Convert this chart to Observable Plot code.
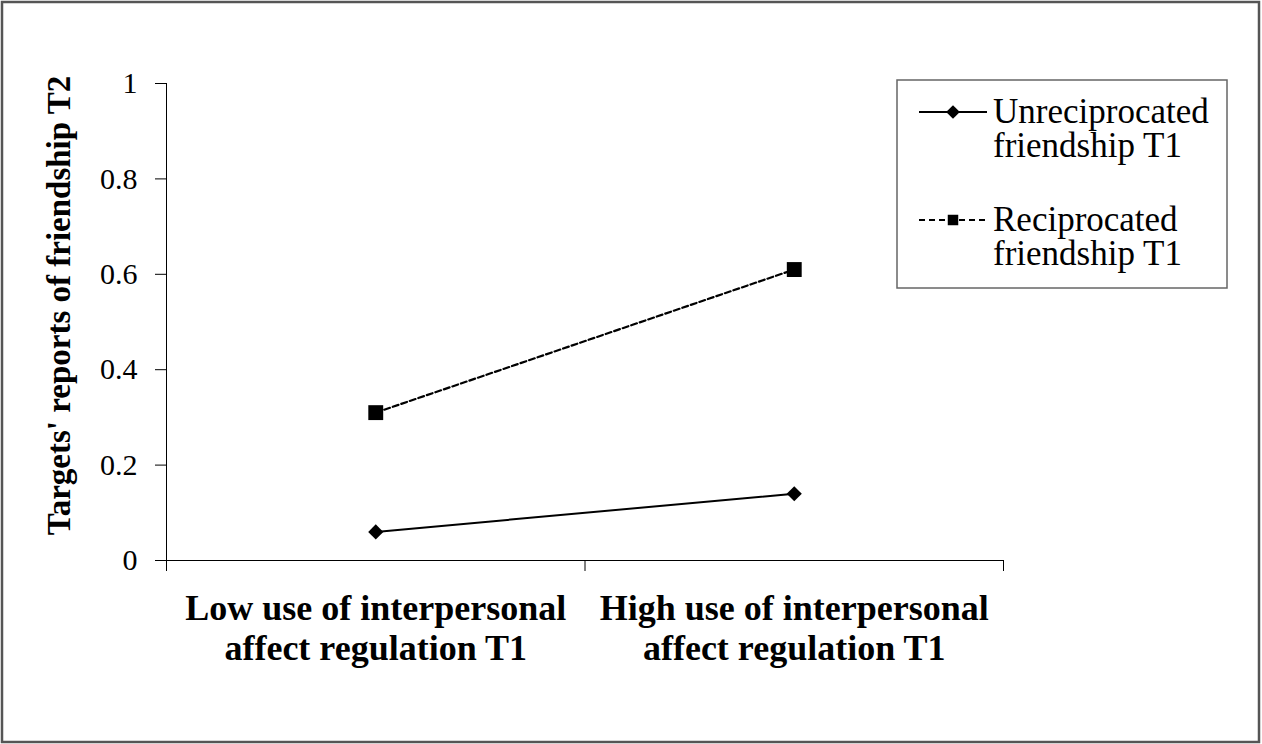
<!DOCTYPE html>
<html>
<head>
<meta charset="utf-8">
<script src="https://cdn.jsdelivr.net/npm/d3@7"></script>
<script src="https://cdn.jsdelivr.net/npm/@observablehq/plot@0.6"></script>
<style>
  html, body { margin: 0; padding: 0; background: #fff; }
  #chart svg { display: block; }
</style>
</head>
<body>
<div id="chart"></div>
<script>
// ---- data ----
const categories = ["Low use of interpersonal\naffect regulation T1", "High use of interpersonal\naffect regulation T1"];
const unreciprocated = [0.06, 0.14];
const reciprocated = [0.31, 0.61];
const seriesNames = ["Unreciprocated\nfriendship T1", "Reciprocated\nfriendship T1"];
const yTicks = [0, 0.2, 0.4, 0.6, 0.8, 1];
const yLabel = "Targets' reports of friendship T2";

// category slot centres on a [0, 2] scale: slot i spans [i, i+1]
const rowsU = categories.map((c, i) => ({pos: i + 0.5, cat: c, v: unreciprocated[i]}));
const rowsR = categories.map((c, i) => ({pos: i + 0.5, cat: c, v: reciprocated[i]}));

const serif = "Liberation Serif, Times New Roman, serif";

const plot = Plot.plot({
  width: 1262,
  height: 744,
  marginLeft: 166,
  marginRight: 259,
  marginTop: 83,
  marginBottom: 184,
  style: {fontFamily: serif, fontSize: "30px", color: "#000", background: "#fff"},
  x: {domain: [0, 2], ticks: [0, 1, 2], tickSize: 11, tickFormat: () => "", label: null, line: true},
  y: {domain: [0, 1], ticks: yTicks, tickSize: 11, tickPadding: 18, tickFormat: d => String(d), label: null, line: true},
  marks: [
    Plot.line(rowsU, {x: "pos", y: "v", stroke: "#000", strokeWidth: 2}),
    Plot.line(rowsR, {x: "pos", y: "v", stroke: "#000", strokeWidth: 2.2, strokeDasharray: "6,3"}),
    Plot.dot(rowsU, {x: "pos", y: "v", symbol: "diamond2", r: 6.8, fill: "#000", stroke: "none"}),
    Plot.dot(rowsR, {x: "pos", y: "v", symbol: "square", r: 8.4, fill: "#000", stroke: "none"}),
    Plot.text(rowsU, {x: "pos", y: () => 0, text: "cat", fontSize: 36, fontWeight: "bold", lineAnchor: "top", lineHeight: 40 / 36, dy: 31, fill: "#000"}),
    Plot.text([yLabel], {frameAnchor: "left", textAnchor: "middle", text: d => d, rotate: -90, fontSize: 33, fontWeight: "bold", dx: -107, dy: -16.5, fill: "#000"})
  ]
});

document.getElementById("chart").appendChild(plot);

const svg = d3.select(plot);

// legend
const lg = svg.append("g").attr("font-family", serif).attr("font-size", 35).attr("text-anchor", "start");
lg.append("rect").attr("x", 897).attr("y", 80).attr("width", 330).attr("height", 208)
  .attr("fill", "#fff").attr("stroke", "#666").attr("stroke-width", 1.5);
const legendItems = [
  {name: seriesNames[0], symbol: d3.symbolDiamond2, size: 120, dash: null, lineY: 112, textY: 123},
  {name: seriesNames[1], symbol: d3.symbolSquare, size: 110, dash: "6,4", lineY: 220, textY: 231}
];
legendItems.forEach(it => {
  lg.append("line").attr("x1", 919).attr("x2", 987).attr("y1", it.lineY).attr("y2", it.lineY)
    .attr("stroke", "#000").attr("stroke-width", 2).attr("stroke-dasharray", it.dash);
  lg.append("path").attr("d", d3.symbol(it.symbol, it.size)()).attr("transform", `translate(953,${it.lineY})`).attr("fill", "#000");
  const tx = lg.append("text").attr("x", 993).attr("y", it.textY).attr("fill", "#000");
  it.name.split("\n").forEach((line, j) => {
    tx.append("tspan").attr("x", 993).attr("dy", j === 0 ? 0 : 34).text(line);
  });
});

// outer frame
svg.append("rect").attr("x", 2).attr("y", 2).attr("width", 1257).attr("height", 740)
  .attr("fill", "none").attr("stroke", "#555").attr("stroke-width", 2.5);
</script>
</body>
</html>
